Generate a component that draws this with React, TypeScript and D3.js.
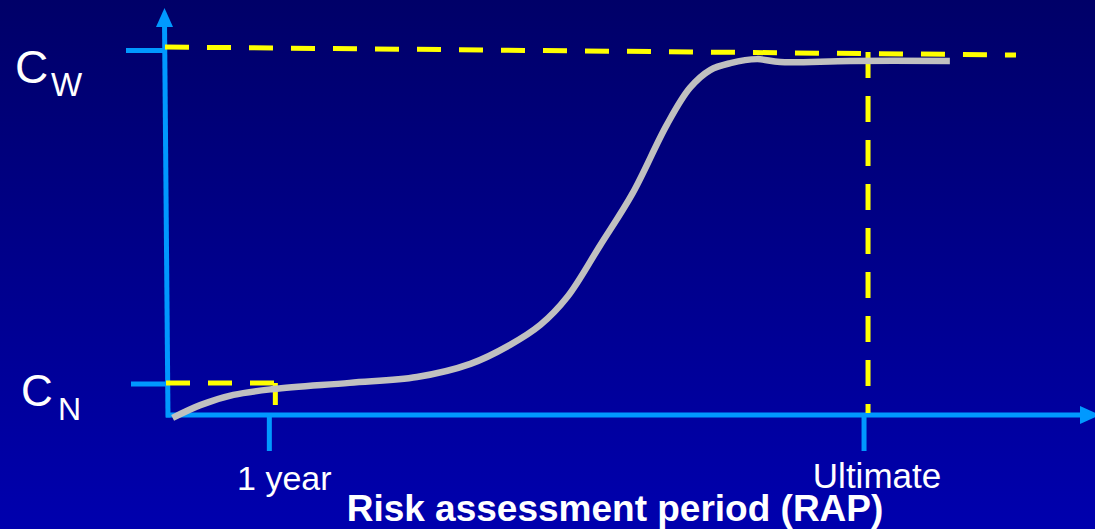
import React from "react";
import * as d3 from "d3";

// Curve data: x in % of horizontal axis length, y in % of (Cw level)
const curveX = [0.5, 3.5, 7.1, 11.4, 19.7, 27.0, 32.8, 37.1, 40.4, 43.3, 46.9, 50.4, 54.1, 56.6, 58.8, 61.0, 63.9, 66.4, 74.0, 84.8];
const curveY = [-0.8, 2.7, 5.5, 7.1, 8.8, 10.4, 14.0, 19.2, 24.7, 32.3, 46.6, 60.8, 79.5, 89.6, 94.5, 96.4, 97.5, 96.7, 97.0, 97.0];

const tickLabels = ["1 year", "Ultimate"];
const tickValues = [11.1, 75.6];
const levelLabels = [
  { main: "C", sub: "W" },
  { main: "C", sub: "N" },
];
const levelValues = [100, 8.5];
const axisTitle = "Risk assessment period (RAP)";

const W = 1095;
const H = 529;

export default function App() {
  const x = d3.scaleLinear().domain([0, 100]).range([168, 1090]);
  const y = d3.scaleLinear().domain([0, 100]).range([415, 50]);

  const pts: [number, number][] = curveX.map((v, i) => [x(v), y(curveY[i])]);
  const line = d3
    .line<[number, number]>()
    .x((d) => d[0])
    .y((d) => d[1])
    .curve(d3.curveCatmullRom.alpha(0.5));

  const axisColor = "#0099FF";
  const yellow = "#FFFF00";
  const font = "'Liberation Sans', Arial, Helvetica, sans-serif";

  const x0 = x(0);
  const y0 = y(0);
  const yW = y(levelValues[0]);
  const yN = y(levelValues[1]);
  const xUlt = x(tickValues[1]);
  const x1y = x(tickValues[0]);

  return (
    <svg
      width={W}
      height={H}
      style={{ position: "absolute", left: 0, top: 0, display: "block" }}
    >
      <defs>
        <linearGradient id="bg" x1="0" y1="0" x2="0" y2="1">
          <stop offset="0" stopColor="#000068" />
          <stop offset="1" stopColor="#0000AE" />
        </linearGradient>
      </defs>
      <rect x={0} y={0} width={W} height={H} fill="url(#bg)" />

      {/* level ticks on y axis */}
      <line x1={126} x2={x0 - 2} y1={yW + 0.5} y2={yW + 0.5} stroke={axisColor} strokeWidth={5} />
      <line x1={131} x2={x0} y1={yN} y2={yN} stroke={axisColor} strokeWidth={5} />

      {/* y axis with arrow */}
      <line x1={164.5} y1={22} x2={168} y2={y0 + 2.5} stroke={axisColor} strokeWidth={5} />
      <path d="M164.5,8 L173,27 L156,27 Z" fill={axisColor} />

      {/* x axis with arrow */}
      <line x1={x0 - 2} y1={y0} x2={1082} y2={y0} stroke={axisColor} strokeWidth={5} />
      <path d={`M1100,${y0} L1080,${y0 - 9} L1080,${y0 + 9} Z`} fill={axisColor} />

      {/* x ticks */}
      {tickValues.map((v, i) => (
        <line key={i} x1={x(v) - 1} x2={x(v) - 1} y1={y0} y2={451} stroke={axisColor} strokeWidth={5} />
      ))}

      {/* yellow guides */}
      <line
        x1={x0 - 3}
        y1={yW - 3}
        x2={1016}
        y2={yW + 5}
        stroke={yellow}
        strokeWidth={5}
        strokeDasharray="24 18"
      />
      <line x1={x0 - 2} y1={yN - 1} x2={x1y + 6} y2={yN - 1} stroke={yellow} strokeWidth={5} strokeDasharray="24 18" />
      <line x1={x1y + 5} y1={yN - 1} x2={x1y + 5} y2={405} stroke={yellow} strokeWidth={5} />
      <line
        x1={xUlt + 3}
        y1={52}
        x2={xUlt + 3}
        y2={y0 - 2}
        stroke={yellow}
        strokeWidth={5}
        strokeDasharray="26 18"
      />

      {/* curve */}
      <path d={line(pts) || ""} fill="none" stroke="#C0C0C0" strokeWidth={6.5} />

      {/* level labels */}
      <text x={15} y={83} fill="#fff" fontFamily={font} fontSize={46}>
        {levelLabels[0].main}
      </text>
      <text x={51} y={96} fill="#fff" fontFamily={font} fontSize={33}>
        {levelLabels[0].sub}
      </text>
      <text x={21} y={406} fill="#fff" fontFamily={font} fontSize={44}>
        {levelLabels[1].main}
      </text>
      <text x={58} y={420} fill="#fff" fontFamily={font} fontSize={32}>
        {levelLabels[1].sub}
      </text>

      {/* tick labels */}
      <text x={x1y + 14} y={490} fill="#fff" fontFamily={font} fontSize={34} textAnchor="middle">
        {tickLabels[0]}
      </text>
      <text x={xUlt + 12} y={488} fill="#fff" fontFamily={font} fontSize={35} textAnchor="middle">
        {tickLabels[1]}
      </text>

      <text
        x={615}
        y={521}
        fill="#fff"
        fontFamily={font}
        fontSize={37}
        fontWeight="bold"
        textAnchor="middle"
      >
        {axisTitle}
      </text>
    </svg>
  );
}
